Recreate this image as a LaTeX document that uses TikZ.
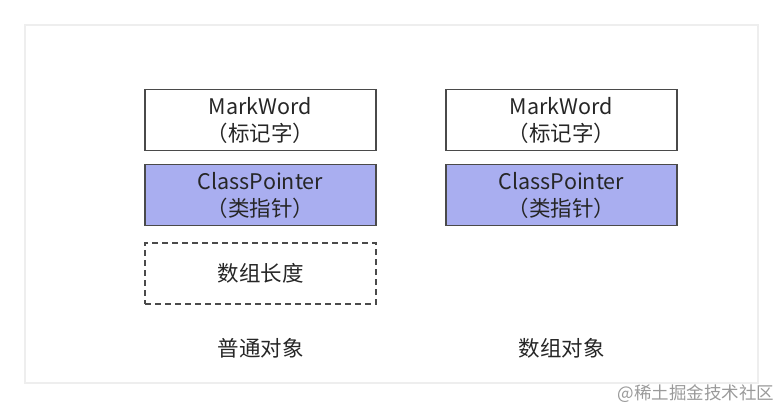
\documentclass[tikz,border=0pt]{standalone}
\usepackage{fontspec}
\setmainfont{Noto Sans CJK SC}
\definecolor{frame}{HTML}{EEEEEE}
\definecolor{boxline}{HTML}{4A4A4A}
\definecolor{purp}{HTML}{A9AEF0}
\definecolor{wm}{HTML}{9A9A9A}
\begin{document}
\begin{tikzpicture}[x=1pt,y=-1pt,
  cell/.style={draw=boxline,line width=1.1pt,minimum width=231pt,minimum height=61pt,inner sep=0pt,align=center,font=\fontsize{21.5}{27}\selectfont,text=black!85},
  ptr/.style={cell,fill=purp},
  dash box/.style={cell,dashed,dash pattern=on 6pt off 4pt},
  captxt/.style={font=\fontsize{21.5}{26}\selectfont,text=black!85}]
\useasboundingbox (0,0) rectangle (784,409);
\draw[frame,line width=1.2pt] (25,25) rectangle (758,383);
\node[cell] (m1) at (260.5,120) {MarkWord\\（标记字）};
\node[ptr] (c1) at (260.5,195) {ClassPointer\\（类指针）};
\node[dash box] (l1) at (260.5,273.5) {数组长度};
\node[captxt] (t1) at (260.5,348) {普通对象};
\node[cell] (m2) at (561.5,120) {MarkWord\\（标记字）};
\node[ptr] (c2) at (561.5,195) {ClassPointer\\（类指针）};
\node[captxt] (t2) at (561.5,348) {数组对象};
\node[font=\fontsize{17.5}{20}\selectfont,text=wm,anchor=east] (w) at (778,394) {@稀土掘金技术社区};
\end{tikzpicture}
\end{document}
